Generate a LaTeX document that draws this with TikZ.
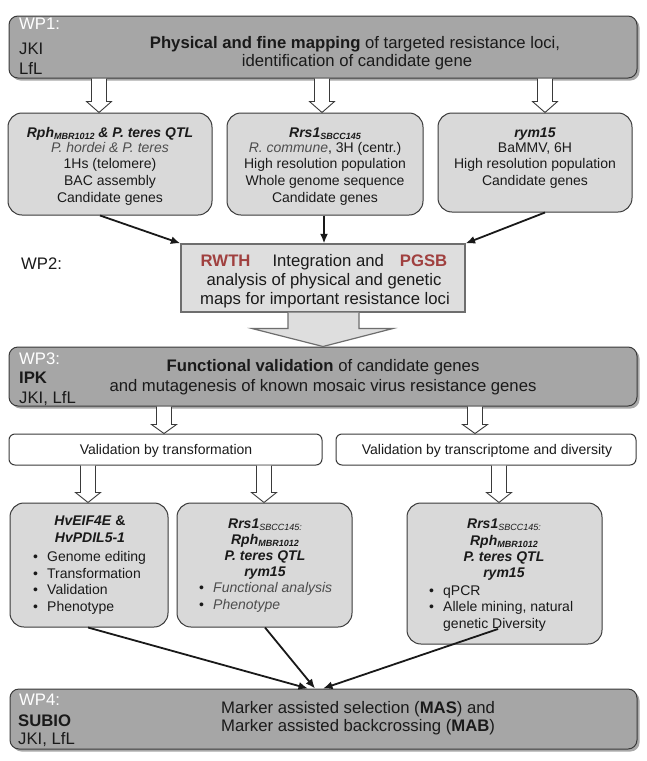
\documentclass[tikz,border=0pt]{standalone}
\usepackage{fontspec}
\setmainfont{Liberation Sans}
\usetikzlibrary{arrows.meta,calc,shadows}
\definecolor{darkfill}{HTML}{A6A6A6}
\definecolor{lightfill}{HTML}{D9D9D9}
\definecolor{wptwofill}{HTML}{DEDEDE}
\definecolor{edge}{HTML}{3A3A3A}
\definecolor{softedge}{HTML}{6E6E6E}
\definecolor{txt}{HTML}{1A1A1A}
\definecolor{redt}{HTML}{A0403F}
\definecolor{itxt}{HTML}{4D4D4D}
\newcommand{\sbs}[1]{\raisebox{-2.5pt}{\fontsize{9}{10}\selectfont #1}}
\newcommand{\bul}{\makebox[14pt][l]{\textbullet}}
\newcommand{\blockarrow}[3]{%
  \path[harrow] let \p1=(#1), \p2=(#2) in
    (\x1-7.5pt,\y1) -- (\x1-7.5pt,\y2+#3) -- (\x1-12.5pt,\y2+#3) -- (\x1,\y2)
    -- (\x1+12.5pt,\y2+#3) -- (\x1+7.5pt,\y2+#3) -- (\x1+7.5pt,\y1);}
\tikzset{
  darkbox/.style={draw=edge, line width=1pt, fill=darkfill, rounded corners=9pt, inner sep=0pt,
    drop shadow={shadow xshift=2.5pt, shadow yshift=-2.5pt, opacity=0.45, fill=black!75}},
  lightbox/.style={draw=edge, line width=1pt, fill=lightfill, rounded corners=14pt, inner sep=0pt},
  valbox/.style={draw=edge, line width=1pt, fill=white, rounded corners=6pt, inner sep=0pt},
  wptwobox/.style={draw=softedge, line width=1.2pt, fill=wptwofill, inner sep=0pt},
  harrow/.style={draw=edge, line width=0.9pt, fill=white},
  bigarrow/.style={draw=softedge, line width=1.2pt, fill=wptwofill},
  conn/.style={draw=black!90, line width=1.8pt, -{Latex[length=9.5pt,width=8pt]}},
  hdr/.style={font=\fontsize{16.7}{18}\selectfont, text=txt, inner sep=0pt, anchor=base},
  hdrl/.style={hdr, anchor=base west},
  wpl/.style={hdrl, text=white},
  bod/.style={font=\fontsize{14}{16}\selectfont, text=txt, inner sep=0pt, anchor=base},
  bodl/.style={bod, anchor=base west},
}
\begin{document}
\begin{tikzpicture}[x=1pt, y=-1pt]
\useasboundingbox (0,0) rectangle (646,761);
\fill[white] (0,0) rectangle (646,761);

% ---------- boxes ----------
\node[darkbox, minimum width=628pt, minimum height=62pt] (wp1) at (323,47) {};
\node[lightbox, minimum width=204pt, minimum height=102pt] (a) at (110,164) {};
\node[lightbox, minimum width=196pt, minimum height=102pt] (b) at (325,164) {};
\node[lightbox, minimum width=194pt, minimum height=99pt] (c) at (535,162.5) {};
\node[wptwobox, minimum width=284pt, minimum height=68pt] (wp2) at (323,278) {};
\node[darkbox, minimum width=628pt, minimum height=59pt] (wp3) at (323,376.5) {};
\node[valbox, minimum width=313pt, minimum height=31pt] (v1) at (165.5,449.5) {};
\node[valbox, minimum width=300pt, minimum height=31pt] (v2) at (486,449.5) {};
\node[lightbox, minimum width=158pt, minimum height=124pt] (d) at (89,565) {};
\node[lightbox, minimum width=175pt, minimum height=124pt] (e) at (264.5,565) {};
\node[lightbox, minimum width=195pt, minimum height=141pt] (f) at (504.5,573.5) {};
\node[darkbox, minimum width=627pt, minimum height=60pt] (wp4) at (323.5,719) {};

% ---------- WP1 ----------
\node[wpl] (wp1l) at (19,29) {WP1:};
\node[hdrl] (wp1j) at (19,54) {JKI};
\node[hdrl] (wp1k) at (19,74) {LfL};
\node[hdr] (wp1t1) at (355,48) {\textbf{Physical and fine mapping} of targeted resistance loci,};
\node[hdr] (wp1t2) at (357,66) {identification of candidate gene};

% ---------- top row ----------
\node[bod] (a1) at (110,137) {\textbf{\textit{Rph\sbs{MBR1012} \& P. teres QTL}}};
\node[bod, text=itxt] (a2) at (110,152) {\textit{P. hordei \& P. teres}};
\node[bod] (a3) at (110,168) {1Hs (telomere)};
\node[bod] (a4) at (110,185) {BAC assembly};
\node[bod] (a5) at (110,202) {Candidate genes};

\node[bod] (b1) at (325,137) {\textbf{\textit{Rrs1\sbs{SBCC145}}}};
\node[bod] (b2) at (325,152) {{\color{itxt}\textit{R. commune}}, 3H (centr.)};
\node[bod] (b3) at (325,168) {High resolution population};
\node[bod] (b4) at (325,185) {Whole genome sequence};
\node[bod] (b5) at (325,202) {Candidate genes};

\node[bod] (c1) at (535,137) {\textbf{\textit{rym15}}};
\node[bod] (c2) at (535,152) {BaMMV, 6H};
\node[bod] (c3) at (535,168) {High resolution population};
\node[bod] (c4) at (535,185) {Candidate genes};

% ---------- WP2 ----------
\node[hdrl] (wp2l) at (21,269) {WP2:};
\node[hdr] (w2a) at (324,266) {\textbf{\color{redt}RWTH}\hspace{22pt}Integration and\hspace{16pt}\textbf{\color{redt}PGSB}};
\node[hdr] (w2b) at (324,285) {analysis of physical and genetic};
\node[hdr] (w2c) at (325,304) {maps for important resistance loci};

% ---------- WP3 ----------
\node[wpl] (wp3l) at (19,364) {WP3:};
\node[hdrl] (wp3i) at (19,383) {\textbf{IPK}};
\node[hdrl] (wp3j) at (19,403) {JKI, LfL};
\node[hdr] (wp3t1) at (323,371) {\textbf{Functional validation} of candidate genes};
\node[hdr] (wp3t2) at (323,391) {and mutagenesis of known mosaic virus resistance genes};

% ---------- validation ----------
\node[bod] (v1t) at (166,454) {Validation by transformation};
\node[bod] (v2t) at (487,454) {Validation by transcriptome and diversity};

% ---------- bottom row ----------
\node[bod] (d1) at (90,525) {\textbf{\textit{HvEIF4E}} \textbf{\&}};
\node[bod] (d2) at (90,542) {\textbf{\textit{HvPDIL5-1}}};
\node[bodl] (d3) at (33,561) {\bul Genome editing};
\node[bodl] (d4) at (33,578) {\bul Transformation};
\node[bodl] (d5) at (33,594) {\bul Validation};
\node[bodl] (d6) at (33,611) {\bul Phenotype};

\node[bod] (e1) at (265,528) {\textbf{\textit{Rrs1}}\sbs{\textit{SBCC145:}}};
\node[bod] (e2) at (265,544) {\textbf{\textit{Rph\sbs{MBR1012}}}};
\node[bod] (e3) at (265,560) {\textbf{\textit{P. teres QTL}}};
\node[bod] (e4) at (265,576) {\textbf{\textit{rym15}}};
\node[bodl] (e5) at (199,592) {\bul{\color{itxt}\textit{Functional analysis}}};
\node[bodl] (e6) at (199,609) {\bul{\color{itxt}\textit{Phenotype}}};

\node[bod] (f1) at (504,528) {\textbf{\textit{Rrs1}}\sbs{\textit{SBCC145:}}};
\node[bod] (f2) at (504,545) {\textbf{\textit{Rph\sbs{MBR1012}}}};
\node[bod] (f3) at (504,561) {\textbf{\textit{P. teres QTL}}};
\node[bod] (f4) at (504,577) {\textbf{\textit{rym15}}};
\node[bodl] (f5) at (429,595) {\bul qPCR};
\node[bodl] (f6) at (429,611) {\bul Allele mining, natural};
\node[bodl] (f7) at (443,628) {genetic Diversity};

% ---------- WP4 ----------
\node[wpl] (wp4l) at (19,705) {WP4:};
\node[hdrl] (wp4s) at (18,726) {\textbf{SUBIO}};
\node[hdrl] (wp4j) at (18,744) {JKI, LfL};
\node[hdrl] (wp4t1) at (221,713) {Marker assisted selection (\textbf{MAS}) and};
\node[hdrl] (wp4t2) at (221,731) {Marker assisted backcrossing (\textbf{MAB})};

% ---------- hollow block arrows ----------
\blockarrow{99,0 |- wp1.south}{99,0 |- a.north}{11pt}
\blockarrow{322,0 |- wp1.south}{322,0 |- b.north}{11pt}
\blockarrow{545,0 |- wp1.south}{545,0 |- c.north}{11pt}
\blockarrow{164,0 |- wp3.south}{164,0 |- v1.north}{9pt}
\blockarrow{475,0 |- wp3.south}{475,0 |- v2.north}{9pt}
\blockarrow{88,0 |- v1.south}{88,0 |- d.north}{10pt}
\blockarrow{264,0 |- v1.south}{264,0 |- e.north}{10pt}
\blockarrow{499,0 |- v2.south}{499,0 |- f.north}{10pt}

% big arrow WP2 -> WP3
\path[bigarrow] let \p1=(wp2.south), \p2=(wp3.north) in
  (\x1-35pt,\y1) -- (\x1-35pt,\y2+18pt) -- (\x1-71pt,\y2+18pt) -- (\x1,\y2)
  -- (\x1+70pt,\y2+18pt) -- (\x1+36pt,\y2+18pt) -- (\x1+36pt,\y1);

% ---------- black connectors ----------
\draw[conn] (100,0 |- a.south) -- (wp2.north west);
\draw[conn] (324,0 |- b.south) -- (324,0 |- wp2.north);
\draw[conn] (545,0 |- c.south) -- (wp2.north east);
\coordinate (fstart) at (498,629);
\draw[conn] (88,0 |- d.south) -- (308,0 |- wp4.north);
\draw[conn] (265,0 |- e.south) -- (315,0 |- wp4.north);
\draw[conn] (fstart) -- (323,0 |- wp4.north);
\end{tikzpicture}
\end{document}
